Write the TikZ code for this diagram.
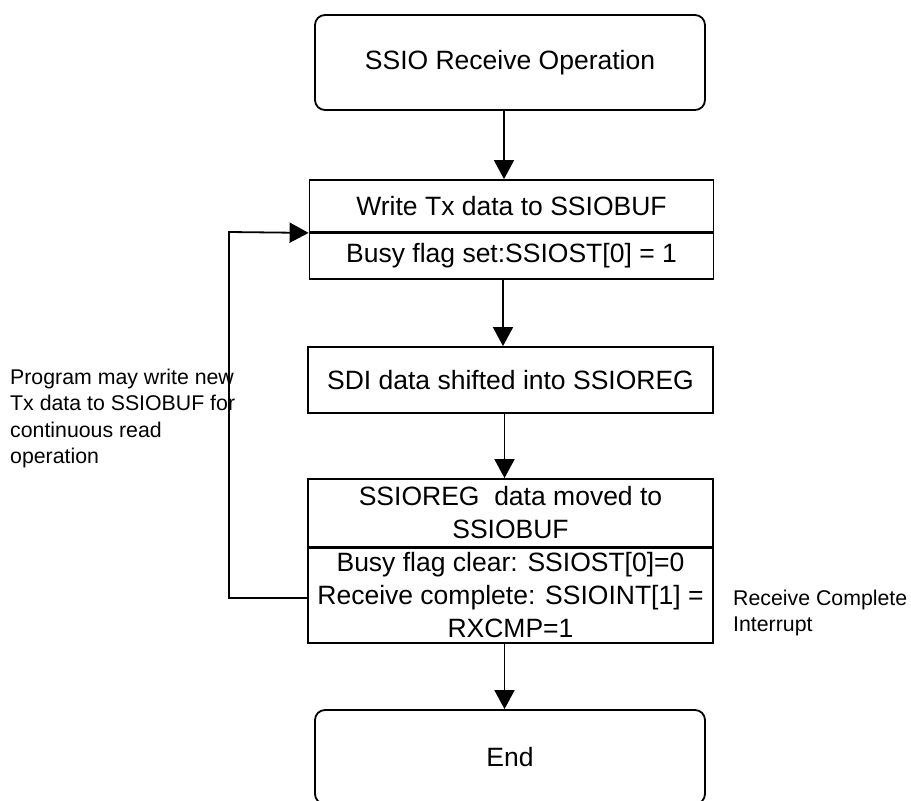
\documentclass[tikz,border=0pt]{standalone}
\usepackage{fontspec}
\setmainfont{Liberation Sans}
\usetikzlibrary{arrows.meta}
\begin{document}
\begin{tikzpicture}[x=1pt,y=-1pt,
  box/.style={draw,line width=1.8pt,inner sep=0pt,align=center,font=\fontsize{26.5}{33}\selectfont},
  term/.style={box,rounded corners=10pt,minimum width=390pt},
  proc/.style={box,minimum width=404pt},
  arr/.style={line width=1.8pt,-{Triangle[length=19pt,width=20pt]}},
  note/.style={inner sep=0pt,align=left,font=\fontsize{21.3}{26.3}\selectfont}]
\useasboundingbox (0,0) rectangle (911,801);
\clip (0,0) rectangle (911,801);
\node[term,minimum height=95pt] (start) at (510,62.5) {\raisebox{-2pt}{SSIO Receive Operation}};
\node[proc,minimum height=52pt] (w) at (511.5,206) {Write Tx data to SSIOBUF};
\node[proc,minimum height=46pt] (busy) at (511.5,256) {Busy flag set:SSIOST[0] = 1};
\node[proc,minimum height=66pt,minimum width=405pt] (sdi) at (510.5,380) {SDI data shifted into SSIOREG};
\node[proc,minimum height=68pt,minimum width=405pt] (mv) at (510.5,513) {SSIOREG\ \ data moved to\\SSIOBUF};
\node[proc,minimum height=95pt,minimum width=405pt] (clr) at (510.5,595.5) {Busy flag clear: SSIOST[0]=0\\Receive complete: SSIOINT[1] =\\RXCMP=1};
\node[term,minimum height=94pt] (end) at (510,757) {\raisebox{-2pt}{End}};
\node[note,anchor=north west] (prog) at (10,369) {Program may write new\\Tx data to SSIOBUF for\\continuous read\\operation};
\node[note,anchor=north west] (rc) at (733,590) {Receive Complete\\Interrupt};
\coordinate (c1) at (229,598);
\coordinate (c2) at (229,232);
\draw[arr] ([xshift=-6pt]start.south) -- ([xshift=-6pt]start.south |- w.north);
\draw[arr] ([xshift=-8.5pt]busy.south) -- ([xshift=-8.5pt]busy.south |- sdi.north);
\draw[arr] ([xshift=-6pt]sdi.south) -- ([xshift=-6pt]sdi.south |- mv.north);
\draw[arr] ([xshift=-6pt]clr.south) -- ([xshift=-6pt]clr.south |- end.north);
\draw[arr] (clr.west |- c1) -- (c1) -- (c2) -- (w.south west);
\end{tikzpicture}
\end{document}
